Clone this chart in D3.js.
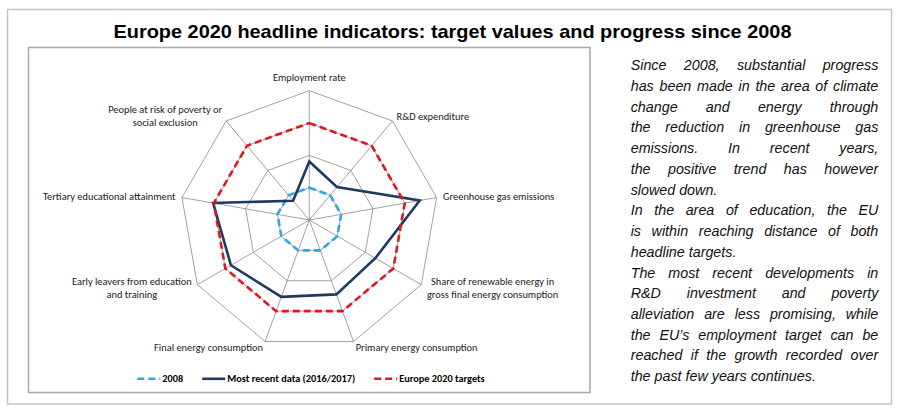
<!DOCTYPE html>
<html>
<head>
<meta charset="utf-8">
<script src="https://cdn.jsdelivr.net/npm/d3@7"></script>
<style>
  body { margin: 0; background: #fff; }
  svg { display: block; }
</style>
</head>
<body>
<div id="viz-container"></div>
<script>
let w = 900;
let h = 414;

// indicators, clockwise from the top
let indicators = [
  "Employment rate",
  "R&D expenditure",
  "Greenhouse gas emissions",
  "Share of renewable energy in|gross final energy consumption",
  "Primary energy consumption",
  "Final energy consumption",
  "Early leavers from education|and training",
  "Tertiary educational attainment",
  "People at risk of poverty or|social exclusion"
];
let values2008 = [1, 1, 1, 1, 1, 1, 1, 1, 1];
let valuesRecent = [1.81, 1.33, 3.47, 2.36, 2.45, 2.53, 2.8, 3.02, 0.78];
let valuesTarget = [3, 3, 3, 3, 3, 3, 3, 3, 3];
let gridLevels = [1, 2, 3, 4];

let seriesNames = ["2008", "Most recent data (2016/2017)", "Europe 2020 targets"];
let seriesColors = ["#2EA7DE", "#1F3A60", "#E0171F"];
let seriesDash = ["7,4", null, "7,4"];

let textLines = [
  ["Since 2008, substantial progress", true],
  ["has been made in the area of climate", true],
  ["change and energy through", true],
  ["the reduction in greenhouse gas", true],
  ["emissions. In recent years,", true],
  ["the positive trend has however", true],
  ["slowed down.", false],
  ["In the area of education, the EU", true],
  ["is within reaching distance of both", true],
  ["headline targets.", false],
  ["The most recent developments in", true],
  ["R&D investment and poverty", true],
  ["alleviation are less promising, while", true],
  ["the EU\u2019s employment target can be", true],
  ["reached if the growth recorded over", true],
  ["the past few years continues.", false]
];

let labelFont = "Carlito, Calibri, Lato, sans-serif";

let viz = d3.select("#viz-container")
  .append("svg")
  .attr("width", w)
  .attr("height", h);

// frames
viz.append("rect")
  .attr("x", 7.5).attr("y", 9.5)
  .attr("width", 884).attr("height", 394.5)
  .attr("fill", "none").attr("stroke", "#c4c4c4").attr("stroke-width", 1.5);
viz.append("rect")
  .attr("x", 28.5).attr("y", 47.5)
  .attr("width", 561.5).attr("height", 345)
  .attr("fill", "none").attr("stroke", "#a9a9a9").attr("stroke-width", 1.5);

// title
viz.append("text")
  .attr("x", 452.5).attr("y", 37.5)
  .attr("text-anchor", "middle")
  .attr("font-family", "Liberation Sans, Arial, sans-serif")
  .attr("font-weight", "bold")
  .attr("font-size", "18.5px")
  .attr("textLength", 678)
  .attr("lengthAdjust", "spacingAndGlyphs")
  .attr("fill", "#000")
  .text("Europe 2020 headline indicators: target values and progress since 2008");

// radar
let cx = 309.3, cy = 220;
let rScale = d3.scaleLinear().domain([0, 4]).range([0, 129.3]);
let angle = d3.scaleLinear().domain([0, indicators.length]).range([0, 2 * Math.PI]);

function pt(i, v) {
  let a = angle(i);
  return [rScale(v) * Math.sin(a), -rScale(v) * Math.cos(a)];
}

let radar = viz.append("g").attr("transform", "translate(" + cx + "," + cy + ")");

let ringLine = d3.line().curve(d3.curveLinearClosed);

radar.selectAll(".ring").data(gridLevels).enter()
  .append("path")
  .attr("class", "ring")
  .attr("d", lv => ringLine(indicators.map((d, i) => pt(i, lv))))
  .attr("fill", "none")
  .attr("stroke", "#8a8a8a")
  .attr("stroke-width", 0.8);

radar.selectAll(".spoke").data(indicators).enter()
  .append("line")
  .attr("class", "spoke")
  .attr("x1", 0).attr("y1", 0)
  .attr("x2", (d, i) => pt(i, 4)[0])
  .attr("y2", (d, i) => pt(i, 4)[1])
  .attr("stroke", "#8a8a8a")
  .attr("stroke-width", 0.8);

let allSeries = [values2008, valuesRecent, valuesTarget];
radar.selectAll(".series").data(allSeries).enter()
  .append("path")
  .attr("class", "series")
  .attr("d", vals => ringLine(vals.map((v, i) => pt(i, v))))
  .attr("fill", "none")
  .attr("stroke", (d, i) => seriesColors[i])
  .attr("stroke-width", 2.6)
  .attr("stroke-dasharray", (d, i) => seriesDash[i])
  .attr("stroke-linejoin", "miter");

// axis labels
let lineH = 12.6;
let labels = radar.selectAll(".axlabel").data(indicators).enter()
  .append("text")
  .attr("class", "axlabel")
  .attr("font-family", labelFont)
  .attr("font-size", "10.4px")
  .attr("fill", "#1a1a1a");

labels.each(function(d, i) {
  let el = d3.select(this);
  let parts = d.split("|");
  let a = angle(i);
  let s = Math.sin(a), c = Math.cos(a);
  let tip = pt(i, 4);
  let ax = tip[0] + s * 6.5;
  let ay = tip[1] - c * 6.5;
  let blockH = parts.length * lineH;
  let mid = Math.abs(s) < 0.1;
  if (mid) ay += (c > 0 ? -1 : 1) * (blockH / 2 + 1);
  let tspans = parts.map((p, k) => el.append("tspan").text(p));
  let widths = tspans.map(t => t.node().getComputedTextLength());
  let maxW = d3.max(widths);
  let centerX = mid ? ax : (s > 0 ? ax + maxW / 2 : ax - maxW / 2);
  tspans.forEach((t, k) => {
    t.attr("x", centerX)
     .attr("y", ay - blockH / 2 + lineH * k + lineH / 2 + 3.6)
     .attr("text-anchor", "middle");
  });
});

// legend
let legY = 378.8;
let legend = viz.append("g");
let items = legend.selectAll(".legitem").data(seriesNames).enter()
  .append("g").attr("class", "legitem");
items.append("line")
  .attr("x1", 0).attr("x2", 23)
  .attr("y1", 0).attr("y2", 0)
  .attr("stroke", (d, i) => seriesColors[i])
  .attr("stroke-width", 2.6)
  .attr("stroke-dasharray", (d, i) => seriesDash[i]);
items.append("text")
  .attr("x", 25).attr("y", 3.6)
  .attr("font-family", labelFont)
  .attr("font-weight", "bold")
  .attr("font-size", "10.3px")
  .attr("fill", "#000")
  .text(d => d);
let xpos = 0;
let offsets = [];
items.each(function(d, i) {
  offsets.push(xpos);
  xpos += 25 + d3.select(this).select("text").node().getComputedTextLength() + 19;
});
let legW = xpos - 19;
let legStart = 311 - legW / 2;
items.attr("transform", (d, i) => "translate(" + (legStart + offsets[i]) + "," + legY + ")");

// side text, justified by hand
let textX = 630.7, textW = 247.6, textY0 = 70.3, textLH = 20.72;
let side = viz.append("g")
  .attr("font-family", "Liberation Sans, Arial, sans-serif")
  .attr("font-style", "italic")
  .attr("font-size", "14.3px")
  .attr("fill", "#111");

let meas = side.append("text");
function wordW(s) {
  meas.text(s);
  return meas.node().getComputedTextLength();
}
let spaceW = wordW("a a") - wordW("aa");

textLines.forEach((ln, k) => {
  let words = ln[0].split(" ");
  let ws = words.map(wordW);
  let total = d3.sum(ws);
  let gap = (ln[1] && words.length > 1) ? (textW - total) / (words.length - 1) : spaceW;
  let t = side.append("text").attr("y", textY0 + k * textLH);
  let x = textX;
  words.forEach((wd, j) => {
    t.append("tspan").attr("x", x).text(wd);
    x += ws[j] + gap;
  });
});
meas.remove();
</script>
</body>
</html>
